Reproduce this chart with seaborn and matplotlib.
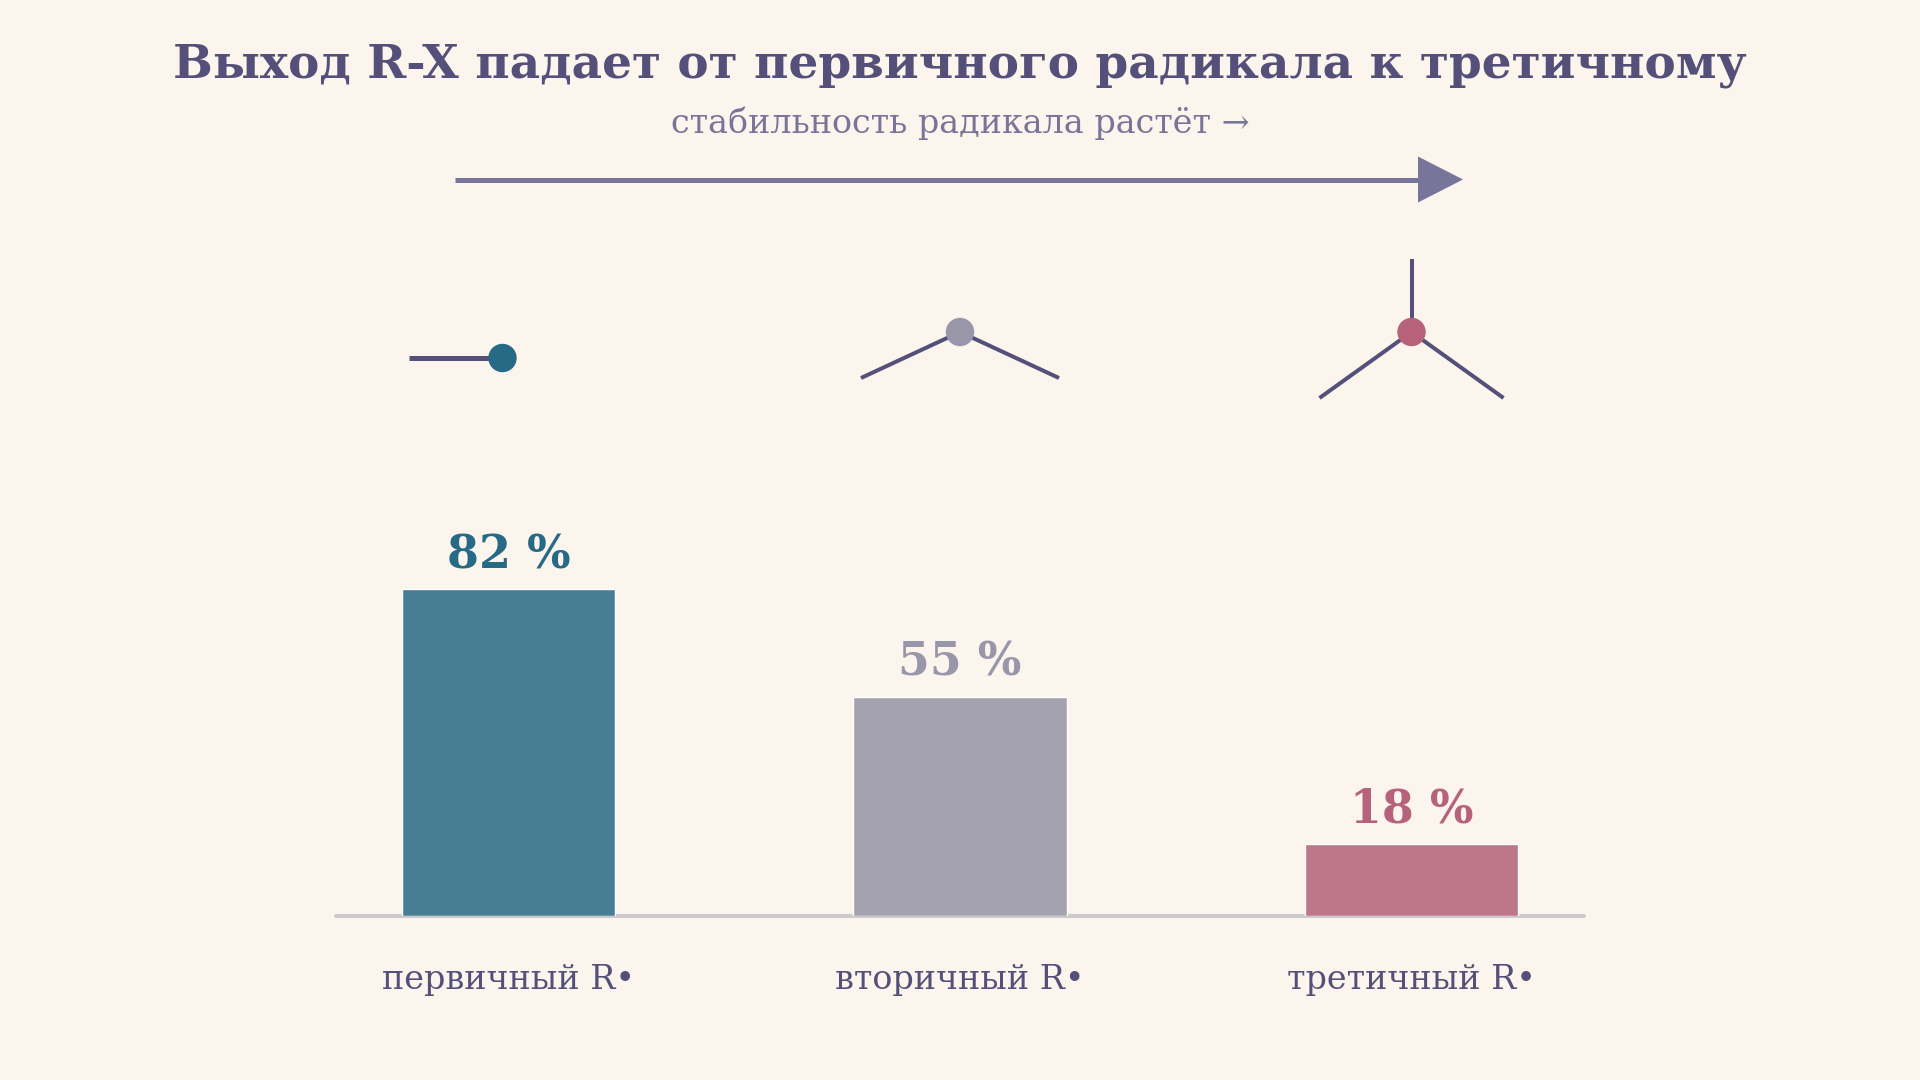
import matplotlib
matplotlib.use("Agg")
import matplotlib.pyplot as plt
import seaborn as sns
import pandas as pd
import numpy as np
from matplotlib.patches import Circle, Polygon

# ---- data ----
categories = ["первичный R•", "вторичный R•", "третичный R•"]
yields = [82, 55, 18]
bar_colors = ["#477e93", "#a5a2af", "#be7789"]
accent_colors = ["#266a85", "#9a96aa", "#b5627a"]
title_text = "Выход R-X падает от первичного радикала к третичному"
subtitle_text = "стабильность радикала растёт →"

BG = "#fbf5ee"
INK = "#55507a"

sns.set_theme(style="white")
plt.rcParams["font.family"] = ["DejaVu Serif", "DejaVu Sans"]

DPI = 100
W, H = 1920, 1080
fig = plt.figure(figsize=(W / DPI, H / DPI), dpi=DPI, facecolor=BG)

def fx(px):
    return px / W

def fy(py):
    return 1 - py / H

# main bar axes
ax_left, ax_right = 336, 1584
ax_bottom, ax_top = 915.5, 915.5 - 398
ax = fig.add_axes([fx(ax_left), fy(ax_bottom), fx(ax_right - ax_left), (ax_bottom - ax_top) / H])
ax.set_facecolor("none")

df = pd.DataFrame({"cat": categories, "val": yields})
sns.barplot(data=df, x="cat", y="val", hue="cat", palette=bar_colors, legend=False,
            width=0.472, saturation=1, ax=ax, zorder=2)
ax.set_xlim(-0.382, 2.382)
ax.set_ylim(0, 100)
for s in ax.spines.values():
    s.set_visible(False)
ax.set_xticks([])
ax.set_yticks([])
ax.set_xlabel("")
ax.set_ylabel("")
ax.axhline(0, color="#cdc9cc", lw=2.9, zorder=1, clip_on=False)

for i, (v, c) in enumerate(zip(yields, accent_colors)):
    ax.annotate(f"{v} %", xy=(i, v), xytext=(0, 21 * 72 / DPI), textcoords="offset points",
                ha="center", va="baseline", fontsize=33, fontweight="bold", color=c,
                annotation_clip=False)
    ax.annotate(categories[i], xy=(i, 0), xytext=(0, -73.5 * 72 / DPI), textcoords="offset points",
                ha="center", va="baseline", fontsize=24, color=INK, annotation_clip=False)

# title and subtitle
fig.text(0.5, fy(77), title_text, ha="center", va="baseline", fontsize=33.8,
         fontweight="bold", color=INK)
fig.text(0.5, fy(133), subtitle_text, ha="center", va="baseline", fontsize=24,
         color="#7a7598")

# overlay axes in pixel space for decorations
deco = fig.add_axes([0, 0, 1, 1])
deco.set_xlim(0, W)
deco.set_ylim(H, 0)
deco.axis("off")
deco.patch.set_alpha(0)

# arrow
arrow_col = "#79759a"
deco.plot([455, 1420], [179.5, 179.5], color=arrow_col, lw=5 * 72 / DPI, solid_capstyle="butt")
deco.add_patch(Polygon([[1418, 156.5], [1463, 179.5], [1418, 202.5]], closed=True,
                       color=arrow_col, lw=0))

# molecule sketches, centered over each bar
centers = [ax.transData.transform((i, 0))[0] for i in range(len(categories))]
arm_lw = 4 * 72 / DPI
dot_r = 13.5

def arm(cx, cy, dx, dy, lw=arm_lw):
    deco.plot([cx, cx + dx], [cy, cy + dy], color=INK, lw=lw, solid_capstyle="butt", zorder=3)

# primary
cx, cy = centers[0] - 6, 358
arm(cx, cy, -93, 0, lw=5 * 72 / DPI)
deco.add_patch(Circle((cx, cy), dot_r, color=accent_colors[0], zorder=4))
# secondary
cx, cy = centers[1], 332
arm(cx, cy, -99, 46)
arm(cx, cy, 99, 46)
deco.add_patch(Circle((cx, cy), dot_r, color=accent_colors[1], zorder=4))
# tertiary
cx, cy = centers[2], 332
arm(cx, cy, 0, -73)
arm(cx, cy, -92, 66)
arm(cx, cy, 92, 66)
deco.add_patch(Circle((cx, cy), dot_r, color=accent_colors[2], zorder=4))

fig.savefig("out.png", dpi=DPI, facecolor=BG)
